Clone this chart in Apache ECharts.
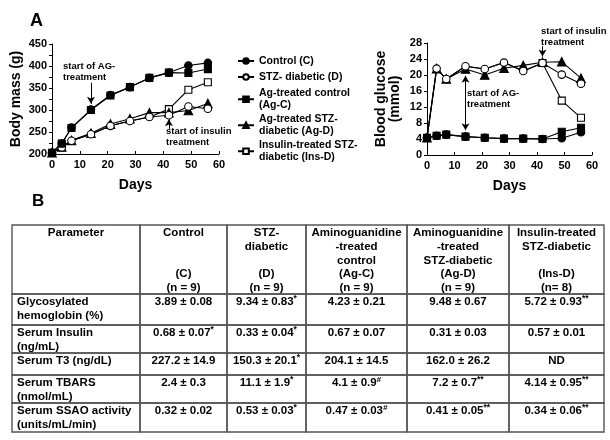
<!DOCTYPE html>
<html><head><meta charset="utf-8">
<script src="https://cdn.jsdelivr.net/npm/echarts@6/dist/echarts.min.js"></script>
<style>html,body{margin:0;padding:0;background:#fff}#c{width:610px;height:440px}</style>
</head><body><div id="c"></div>
<script>
// ---------- DATA ----------
const days = [0, 3.5, 7, 14, 21, 28, 35, 42, 49, 56];
const seriesNames = ['Control (C)', 'STZ- diabetic (D)', 'Ag-treated control\n(Ag-C)', 'Ag-treated STZ-\ndiabetic (Ag-D)', 'Insulin-treated STZ-\ndiabetic (Ins-D)'];
const insulinStartDay = 42;
// Body mass (g)
const bodyC   = [203, 224, 260, 301, 334, 352, 373, 385, 401, 407];
const bodyD   = [203, 215, 230, 245, 264, 275, 284, 288, 308, 303];
const bodyAgC = [203, 224, 259, 300, 333, 352, 373, 385, 384, 393];
const bodyAgD = [203, 216, 231, 247, 268, 280, 294, 294, 299, 315];
const bodyInsD= [203, 215, 230, 245, 264, 275, 284, 302, 346, 363];
// Blood glucose (mmol)
const gluC   = [4.3, 4.8, 5.1, 4.6, 4.3, 4.1, 4.1, 4.0, 4.2, 5.7];
const gluD   = [4.3, 21.6, 19.0, 22.2, 21.5, 23.1, 21.0, 23.0, 20.1, 17.8];
const gluAgC = [4.3, 4.8, 5.1, 4.6, 4.3, 4.1, 4.1, 4.0, 5.8, 6.8];
const gluAgD = [4.3, 21.6, 19.0, 21.5, 20.0, 21.7, 22.4, 23.2, 23.3, 19.2];
const gluInsD= [4.3, 21.6, 19.0, 22.2, 21.5, 23.1, 21.0, 23.0, 13.6, 9.3];
// Axis ticks
const bodyTicks = {min: 200, max: 450, step: 50};
const gluTicks = {min: 0, max: 28, step: 4};
const dayTicks = {min: 0, max: 60, step: 10};
// Table
const tableHeaders = ['Parameter', 'Control\n\n\n(C)\n(n = 9)', 'STZ-\ndiabetic\n\n(D)\n(n = 9)',
  'Aminoguanidine\n-treated\ncontrol\n(Ag-C)\n(n = 9)', 'Aminoguanidine\n-treated\nSTZ-diabetic\n(Ag-D)\n(n = 9)',
  'Insulin-treated\nSTZ-diabetic\n\n(Ins-D)\n(n= 8)'];
const rowLabels = ['Glycosylated\nhemoglobin (%)', 'Serum Insulin\n(ng/mL)', 'Serum T3 (ng/dL)', 'Serum TBARS\n(nmol/mL)', 'Serum SSAO activity\n(units/mL/min)'];
const rowValues = [
  ['3.89 ± 0.08', '9.34 ± 0.83', '4.23 ± 0.21', '9.48 ± 0.67', '5.72 ± 0.93'],
  ['0.68 ± 0.07', '0.33 ± 0.04', '0.67 ± 0.07', '0.31 ± 0.03', '0.57 ± 0.01'],
  ['227.2 ± 14.9', '150.3 ± 20.1', '204.1 ± 14.5', '162.0 ± 26.2', 'ND'],
  ['2.4 ± 0.3', '11.1 ± 1.9', '4.1 ± 0.9', '7.2 ± 0.7', '4.14 ± 0.95'],
  ['0.32 ± 0.02', '0.53 ± 0.03', '0.47 ± 0.03', '0.41 ± 0.05', '0.34 ± 0.06']
];
const rowMarks = [
  ['', '*', '', '', '**'],
  ['*', '*', '', '', ''],
  ['', '*', '', '', ''],
  ['', '*', '#', '**', '**'],
  ['', '*', '#', '**', '**']
];

// ---------- LAYOUT / STYLE ----------
const FF = '"Liberation Sans", Arial, Helvetica, sans-serif';
const colEdges = [0, 128, 215, 294, 395, 497, 592];
const rowEdges = [0, 69, 100, 128, 150, 178, 207];
const legendFirstLineCenters = [61, 77, 93, 119, 145];
const LEG_LH = 12.5;

const chart = echarts.init(document.getElementById('c'), null, {renderer: 'canvas'});

function xAxisCfg(gi) {
  return {gridIndex: gi, type: 'value', min: dayTicks.min, max: dayTicks.max, interval: dayTicks.step,
    axisLine: {show: true, onZero: false, lineStyle: {color: '#000', width: 1}},
    axisTick: {show: true, inside: true, length: 3, lineStyle: {color: '#000'}},
    axisLabel: {color: '#000', fontSize: 11, fontWeight: 'bold', fontFamily: FF, margin: 5},
    splitLine: {show: false},
    name: 'Days', nameLocation: 'middle', nameGap: 24,
    nameTextStyle: {fontSize: 14, fontWeight: 'bold', color: '#000', fontFamily: FF}};
}
function yAxisCfg(gi, t, name, gap, minor) {
  return {gridIndex: gi, type: 'value', min: t.min, max: t.max, interval: t.step,
    axisLine: {show: true, onZero: false, lineStyle: {color: '#000', width: 1}},
    axisTick: {show: true, inside: false, length: 3, lineStyle: {color: '#000'}},
    minorTick: {show: minor, splitNumber: 2, length: 3, lineStyle: {color: '#000'}},
    axisLabel: {color: '#000', fontSize: 11, fontWeight: 'bold', fontFamily: FF, margin: 5},
    splitLine: {show: false}, minorSplitLine: {show: false},
    name: name, nameLocation: 'middle', nameGap: gap, nameRotate: 90,
    nameTextStyle: {fontSize: 14, fontWeight: 'bold', color: '#000', fontFamily: FF, lineHeight: 14}};
}

const symbolSpec = [
  {symbol: 'circle', size: 7.5, fill: '#000'},
  {symbol: 'circle', size: 7.5, fill: '#fff'},
  {symbol: 'rect', size: 7, fill: '#000'},
  {symbol: 'triangle', size: 8.5, fill: '#000'},
  {symbol: 'rect', size: 7, fill: '#fff'}
];

function mkSeries(idx, gi, vals, z, extra) {
  const sp = symbolSpec[idx];
  const data = days.map((d, i) => {
    const v = vals[i];
    if (idx === 4 && d < insulinStartDay) return {value: [d, v], symbol: 'none'};
    return [d, v];
  });
  return Object.assign({
    type: 'line', name: seriesNames[idx], xAxisIndex: gi, yAxisIndex: gi,
    data: data, symbol: sp.symbol, symbolSize: sp.size, showAllSymbol: true,
    lineStyle: {color: '#000', width: 1.1},
    itemStyle: {color: sp.fill, borderColor: '#000', borderWidth: 1.1},
    emphasis: {disabled: true}, animation: false, z: z, clip: false
  }, extra || {});
}

const arrowLine = {color: '#000', width: 1, type: 'solid'};
function markArrows(list) {
  return {markLine: {silent: true, animation: false, symbol: ['none', 'arrow'], symbolSize: [6, 7],
    label: {show: false}, lineStyle: arrowLine, emphasis: {disabled: true}, data: list}};
}

// table cells
const tableCells = [];
for (let r = 0; r <= rowLabels.length; r++)
  for (let c = 0; c < colEdges.length - 1; c++) tableCells.push([c, r]);

function cellRender(params, api) {
  const c = api.value(0), r = api.value(1);
  const p0 = api.coord([colEdges[c], rowEdges[r]]);
  const p1 = api.coord([colEdges[c + 1], rowEdges[r + 1]]);
  const rect = {type: 'rect', shape: {x: p0[0], y: p0[1], width: p1[0] - p0[0], height: p1[1] - p0[1]},
    style: {fill: 'none', stroke: '#555', lineWidth: 1.4}};
  let textStyle;
  const font = {fontFamily: FF, fontWeight: 'bold', fontSize: 11.5};
  if (r === 0) {
    textStyle = Object.assign({text: tableHeaders[c], x: (p0[0] + p1[0]) / 2, y: p0[1] + 1, align: 'center',
      verticalAlign: 'top', lineHeight: 13.8, fill: '#000'}, font);
  } else if (c === 0) {
    textStyle = Object.assign({text: rowLabels[r - 1], x: p0[0] + 5, y: p0[1] + 0.5, align: 'left',
      verticalAlign: 'top', lineHeight: 14.5, fill: '#000'}, font);
  } else {
    const v = rowValues[r - 1][c - 1], m = rowMarks[r - 1][c - 1];
    textStyle = {text: m ? '{v|' + v + '}{s|' + m + '}' : '{v|' + v + '}',
      x: (p0[0] + p1[0]) / 2, y: p0[1] + 0.5, align: 'center', verticalAlign: 'top', fill: '#000',
      rich: {v: Object.assign({lineHeight: 14.5, fill: '#000'}, font),
             s: {fontFamily: FF, fontWeight: 'bold', fontSize: m === '#' ? 8 : 8.5, fontStyle: m === '#' ? 'italic' : 'normal', lineHeight: 9, verticalAlign: 'top', fill: '#000'}}};
  }
  return {type: 'group', children: [rect, {type: 'text', style: textStyle}]};
}

const txt = (t, x, y, size, lh) => ({type: 'text', left: x, top: y, silent: true,
  style: {text: t, font: 'bold ' + (size || 9.5) + 'px ' + FF, fill: '#000', lineHeight: lh || 11}});

// one legend block per entry so the marker sits on the first text line
const legends = seriesNames.map((name, i) => {
  const extra = name.split('\n').length - 1;
  return {orient: 'vertical', left: 237, top: legendFirstLineCenters[i] - LEG_LH / 2 - extra * LEG_LH / 2,
    itemWidth: 16, itemHeight: 7, padding: 0, selectedMode: false, data: [name],
    textStyle: {fontFamily: FF, fontWeight: 'bold', fontSize: 10.5, color: '#000', lineHeight: LEG_LH,
      padding: [extra * LEG_LH, 0, 0, 0]}};
});

const option = {
  backgroundColor: '#fff',
  animation: false,
  grid: [
    {left: 52, top: 44, width: 167, height: 110},
    {left: 427, top: 43, width: 165, height: 112},
    {left: 12, top: 225, width: 592, height: 207}
  ],
  xAxis: [xAxisCfg(0), xAxisCfg(1), {gridIndex: 2, type: 'value', min: 0, max: 592, show: false}],
  yAxis: [
    yAxisCfg(0, bodyTicks, 'Body mass (g)', 29, true),
    yAxisCfg(1, gluTicks, 'Blood glucose\n(mmol)', 25, false),
    {gridIndex: 2, type: 'value', min: 0, max: 207, inverse: true, show: false}
  ],
  legend: legends,
  graphic: [
    txt('A', 30, 11, 18, 20),
    txt('B', 32, 192, 17, 18),
    txt('start of AG-\ntreatment', 63, 60.5),
    txt('start of insulin\ntreatment', 166, 125.5),
    txt('start of AG-\ntreatment', 467, 87.5),
    txt('start of insulin\ntreatment', 541, 25.5)
  ],
  series: [
    mkSeries(4, 0, bodyInsD, 2),
    mkSeries(3, 0, bodyAgD, 3),
    mkSeries(1, 0, bodyD, 4, markArrows([
      [{coord: [14, 362]}, {coord: [14, 314]}],
      [{coord: [42, 257]}, {coord: [42, 279]}]
    ])),
    mkSeries(0, 0, bodyC, 5),
    mkSeries(2, 0, bodyAgC, 6),
    mkSeries(4, 1, gluInsD, 2),
    mkSeries(3, 1, gluAgD, 3),
    mkSeries(1, 1, gluD, 4, markArrows([
      [{coord: [14, 19.8], symbol: 'arrow'}, {coord: [14, 6.2]}],
      [{coord: [42, 27.2]}, {coord: [42, 24.6]}]
    ])),
    mkSeries(0, 1, gluC, 5),
    mkSeries(2, 1, gluAgC, 6),
    {type: 'custom', name: 'table', xAxisIndex: 2, yAxisIndex: 2, data: tableCells,
      renderItem: cellRender, silent: true, animation: false, clip: false, z: 1}
  ]
};
chart.setOption(option);
</script>
</body></html>
